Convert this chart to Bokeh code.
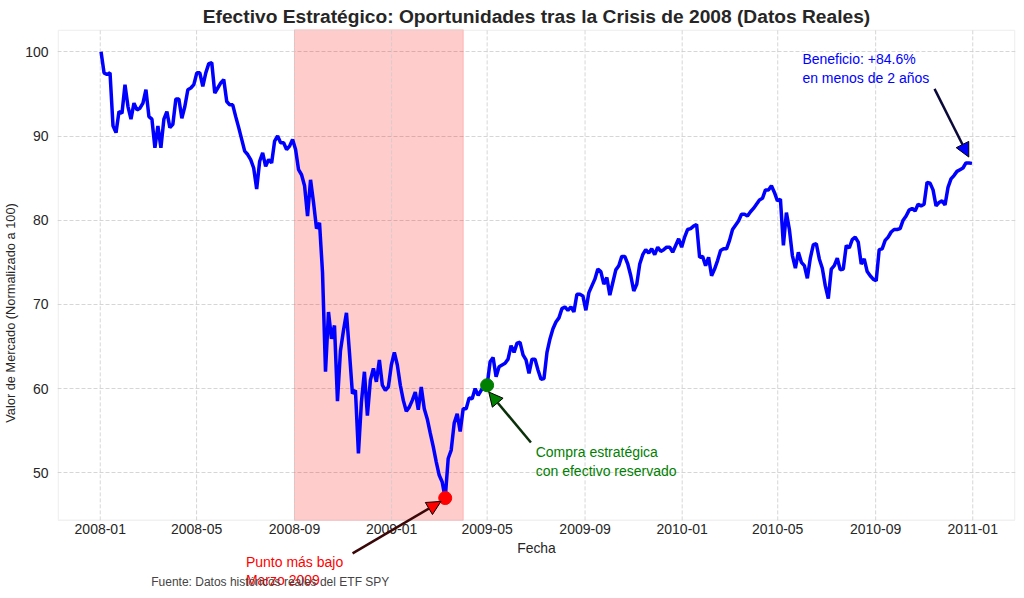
import pandas as pd
from bokeh.plotting import figure
from bokeh.core.properties import value
from bokeh.models import (ColumnDataSource, Range1d, FixedTicker, BoxAnnotation, Label,
                          Arrow, NormalHead)
from bokeh.embed import file_html
from bokeh.resources import INLINE

# serie SPY normalizada a 100 (muestras equiespaciadas)
fecha_inicio = "2008-01-02"
fecha_fin = "2010-12-31"
valores = [
    100.0, 97.5, 97.3, 97.5, 91.2, 90.4, 92.9, 92.7, 96.1, 93.5,
    92.0, 93.9, 93.1, 93.3, 93.9, 95.5, 92.3, 92.0, 88.6, 91.2,
    88.6, 92.0, 92.9, 91.0, 91.4, 94.4, 94.4, 92.1, 93.5, 95.5,
    95.7, 96.1, 97.5, 97.5, 95.9, 97.5, 98.6, 98.7, 95.1, 95.7,
    96.3, 96.7, 94.1, 93.7, 93.7, 92.3, 91.0, 89.6, 88.2, 87.8,
    87.2, 86.2, 83.7, 87.0, 88.0, 86.4, 87.2, 86.8, 89.4, 90.0,
    89.2, 89.2, 88.4, 88.8, 89.6, 88.4, 86.0, 85.4,
    84.1, 80.5, 84.8, 82.1, 79.0, 79.7, 73.8, 62.0, 69.1, 65.9,
    67.5, 58.5, 64.5, 66.9, 69.0, 64.3, 59.4, 59.8, 52.3, 58.4,
    62.0, 56.8, 61.0, 62.4, 60.8, 63.4, 60.4, 59.8, 60.2, 62.8,
    64.3, 62.8, 60.4, 58.6, 57.3, 57.8, 58.6, 59.6, 57.5, 60.2,
    57.6, 56.4, 54.7, 53.1,
    51.3, 49.7, 48.9, 47.0, 51.7, 52.7, 55.9, 57.0, 54.9, 57.6,
    57.6, 58.9, 58.8, 60.0, 59.2, 59.8, 60.4, 60.4, 63.2, 63.7,
    61.4, 62.6, 62.8, 63.0, 63.5, 65.1, 64.3, 65.4, 65.5, 64.0,
    63.4, 61.8, 63.5, 63.5, 62.2, 61.1, 61.2, 64.3, 65.9, 67.1,
    67.9, 68.4, 69.5, 69.7, 69.3, 69.7, 69.1, 71.2, 71.2, 71.0,
    69.3, 71.4, 72.2, 73.0,
    74.2, 73.9, 72.4, 73.2, 71.1, 72.6, 74.1, 74.6, 75.7, 75.7,
    74.8, 73.4, 71.6, 72.4, 74.8, 75.9, 76.5, 76.1, 76.6, 75.9,
    76.8, 76.3, 76.5, 76.8, 76.8, 76.2, 77.0, 77.8, 76.8, 78.0,
    78.9, 79.0, 79.3, 79.5, 75.6, 75.7, 74.6, 75.6, 73.4, 74.2,
    75.2, 76.4, 76.6, 76.6, 77.6, 78.9, 79.4, 79.9, 80.7, 80.7,
    80.5, 81.0, 81.4, 81.9, 82.4, 82.6, 83.6, 83.6, 84.1, 83.3,
    82.3, 82.5, 77.0, 80.9, 78.9, 75.8, 74.3, 76.2,
    75.0, 74.6, 73.1, 75.5, 77.1, 77.2, 75.4, 74.3, 72.2, 70.7,
    74.2, 74.6, 75.5, 74.1, 74.2, 77.0, 76.7, 77.7, 78.0, 77.4,
    74.8, 75.4, 73.9, 73.4, 73.0, 72.8, 76.5, 76.6, 77.6, 78.0,
    78.6, 78.9, 78.9, 79.0, 80.0, 80.5, 81.2, 81.4, 81.1, 81.9,
    81.7, 81.9, 84.5, 84.4, 83.6, 81.7, 82.1, 82.3, 81.8, 83.9,
    84.9, 85.3, 85.8, 86.0, 86.2, 86.8, 86.8, 86.75,
]

crisis_inicio = "2008-09-01"
crisis_fin = "2009-04-01"
fecha_compra = "2009-05-01"

ticks_x = ["2008-01-01", "2008-05-01", "2008-09-01", "2009-01-01", "2009-05-01",
           "2009-09-01", "2010-01-01", "2010-05-01", "2010-09-01", "2011-01-01"]
etiquetas_x = [t[:7] for t in ticks_x]
ticks_y = [50, 60, 70, 80, 90, 100]

FONT = "Liberation Sans"
TXT = "#262626"
W, H = 1018, 596
FL, FR, FT, FB = 54, 1015, 30, 520   # recuadro visible de los ejes (px)


def ms(s):
    return pd.Timestamp(s).value / 1e6


fechas = pd.date_range(fecha_inicio, fecha_fin, periods=len(valores))
df = pd.DataFrame({"fecha": fechas, "valor": valores})
src = ColumnDataSource(df)

i_min = df["valor"].idxmin()
i_compra = (df["fecha"] - pd.Timestamp(fecha_compra)).abs().idxmin()

x_lo, x_hi = ms(fechas[0]), ms(fechas[-1])
xpad = (x_hi - x_lo) * 0.05
x_lo, x_hi = x_lo - xpad, x_hi + xpad
y_lo, y_hi = min(valores), max(valores)
ypad = (y_hi - y_lo) * 0.05
y_lo, y_hi = y_lo - ypad, y_hi + ypad
# el marco real llega hasta abajo del lienzo para poder dibujar debajo del eje
y_start = y_lo - (y_hi - y_lo) * (H - FB) / (FB - FT)


def xv(px):
    return x_lo + (px - FL) * (x_hi - x_lo) / (FR - FL)


def yv(py):
    return y_hi - (py - FT) * (y_hi - y_lo) / (FB - FT)


p = figure(width=W, height=H, x_axis_location=None,
           x_range=Range1d(x_lo, x_hi), y_range=Range1d(y_start, y_hi),
           output_backend="svg", toolbar_location=None,
           min_border_left=40, min_border_right=W - FR, min_border_top=20, min_border_bottom=0)

p.title.text = "Efectivo Estratégico: Oportunidades tras la Crisis de 2008 (Datos Reales)"
p.title.align = "center"
p.title.text_font = FONT
p.title.text_font_size = "19.2px"
p.title.text_font_style = "bold"
p.title.text_color = TXT
p.title.standoff = 6

p.outline_line_color = None
p.xgrid.grid_line_color = None

ax = p.yaxis[0]
ax.ticker = FixedTicker(ticks=ticks_y)
ax.bounds = (y_lo, y_hi)
ax.axis_label = "Valor de Mercado (Normalizado a 100)"
ax.axis_line_color = None
ax.major_tick_line_color = None
ax.minor_tick_line_color = None
ax.major_label_text_font = FONT
ax.major_label_text_font_size = "14px"
ax.major_label_text_color = TXT
ax.axis_label_text_font = FONT
ax.axis_label_text_font_style = "normal"
ax.axis_label_text_color = TXT
ax.axis_label_text_font_size = "12.8px"
ax.major_label_standoff = 3
ax.axis_label_standoff = 4

p.ygrid.grid_line_color = "#cccccc"
p.ygrid.grid_line_dash = "4 2"
p.ygrid.grid_line_width = 0.8

p.add_layout(BoxAnnotation(left=ms(crisis_inicio), right=ms(crisis_fin), bottom=y_lo, top=y_hi,
                           fill_color="red", fill_alpha=0.2,
                           line_color="red", line_alpha=0.2, level="underlay"))

# rejilla vertical y marco limitados al area visible
tx = [ms(t) for t in ticks_x]
p.segment(x0=tx, y0=y_lo, x1=tx, y1=y_hi, line_color="#cccccc", line_dash="4 2", line_width=0.8)
p.add_layout(BoxAnnotation(left=xv(FL + 0.75), right=xv(FR - 0.75), top=yv(FT + 0.75), bottom=y_lo,
                           fill_alpha=0, line_color="#d0d0d0", line_width=1.5))

# etiquetas del eje x
p.text(x=tx, y=yv(524), text=etiquetas_x, text_align="center", text_baseline="top",
       text_font=value(FONT), text_font_size="14px", text_color=TXT)
p.text(x=[(x_lo + x_hi) / 2], y=[yv(540)], text=["Fecha"], text_align="center", text_baseline="top",
       text_font=value(FONT), text_font_size="13.9px", text_color=TXT)

p.line("fecha", "valor", source=src, line_color="blue", line_width=3.5)

p.scatter([df["fecha"][i_min]], [df["valor"][i_min]], size=13, color="red")
p.scatter([df["fecha"][i_compra]], [df["valor"][i_compra]], size=13, color="green")

# anotaciones
p.add_layout(Arrow(x_start=xv(350), y_start=yv(553), x_end=ms("2009-03-04"), y_end=46.6,
                   line_color="#3a0808", line_width=2.5,
                   end=NormalHead(size=14, fill_color="red", line_color="black", line_width=1)))
p.add_layout(Arrow(x_start=ms("2009-06-25"), y_start=53.6, x_end=ms("2009-05-03"), y_end=59.6,
                   line_color="#0a300a", line_width=2.5,
                   end=NormalHead(size=14, fill_color="green", line_color="black", line_width=1)))
p.add_layout(Arrow(x_start=ms("2010-11-14"), y_start=95.6, x_end=ms("2010-12-27"), y_end=87.5,
                   line_color="#0a0a3a", line_width=2.5,
                   end=NormalHead(size=14, fill_color="blue", line_color="black", line_width=1)))

p.add_layout(Label(x=xv(243), y=yv(554), text="Punto más bajo\nMarzo 2009", text_line_height=1.1,
                   text_color="red", text_font=FONT, text_font_size="14px", text_baseline="top"))
p.add_layout(Label(x=ms("2009-07-01"), y=53.4, text="Compra estratégica\ncon efectivo reservado",
                   text_color="green", text_font=FONT, text_font_size="14px", text_baseline="top"))
p.add_layout(Label(x=ms("2010-06-01"), y=100.15, text="Beneficio: +84.6%\nen menos de 2 años",
                   text_color="blue", text_font=FONT, text_font_size="14px", text_baseline="top"))
p.add_layout(Label(x=xv(148), y=yv(575), text="Fuente: Datos históricos reales del ETF SPY",
                   text_color="#444444", text_font=FONT, text_font_size="12px", text_baseline="top"))

open("out.html", "w").write(file_html(p, INLINE))
